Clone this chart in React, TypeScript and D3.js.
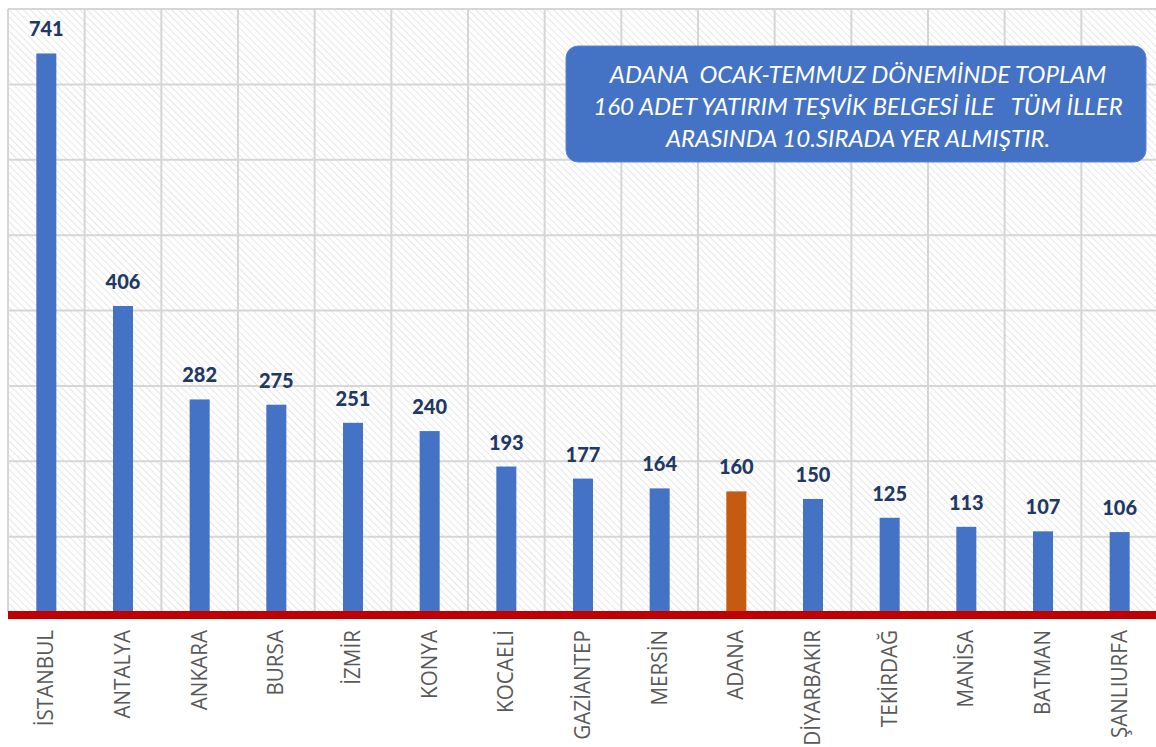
import { useEffect, useRef } from 'react'
import * as d3 from 'd3'

const cities = ['İSTANBUL', 'ANTALYA', 'ANKARA', 'BURSA', 'İZMİR', 'KONYA', 'KOCAELİ', 'GAZİANTEP', 'MERSİN', 'ADANA', 'DİYARBAKIR', 'TEKİRDAĞ', 'MANİSA', 'BATMAN', 'ŞANLIURFA']
const counts = [741, 406, 282, 275, 251, 240, 193, 177, 164, 160, 150, 125, 113, 107, 106]
const highlight = 'ADANA'
const yTicks = [0, 100, 200, 300, 400, 500, 600, 700, 800]
const noteLines = [
  'ADANA  OCAK-TEMMUZ DÖNEMİNDE TOPLAM',
  '160 ADET YATIRIM TEŞVİK BELGESİ İLE   TÜM İLLER',
  'ARASINDA 10.SIRADA YER ALMIŞTIR.',
]

const App = () => {
  const ref = useRef(null)
  const width = 1156
  const height = 747

  useEffect(() => {
    if (!ref.current) return
    const svg = d3.select(ref.current)
    svg.selectAll('*').remove()

    const left = 8, right = 1158, top = 9, bottom = 612

    const x = d3.scaleBand().domain(cities).range([left, right])
    const y = d3.scaleLinear().domain([0, 800]).range([bottom, top])

    // diagonal hatch like the excel plot area fill
    const defs = svg.append('defs')
    const pat = defs.append('pattern')
      .attr('id', 'hatch')
      .attr('width', 5).attr('height', 5)
      .attr('patternUnits', 'userSpaceOnUse')
      .attr('patternTransform', 'rotate(45)')
    pat.append('rect').attr('width', 5).attr('height', 5).attr('fill', '#fff')
    pat.append('line')
      .attr('x1', 0).attr('y1', 0).attr('x2', 5).attr('y2', 0)
      .attr('stroke', '#e2e2e2').attr('stroke-width', 1.6)

    svg.append('rect')
      .attr('x', left).attr('y', top)
      .attr('width', right - left).attr('height', bottom - top)
      .attr('fill', 'url(#hatch)')

    svg.append('g').selectAll('line').data(yTicks).enter().append('line')
      .attr('x1', left).attr('x2', right)
      .attr('y1', d => y(d)).attr('y2', d => y(d))
      .attr('stroke', '#d6d6d6').attr('stroke-width', 2)

    const vx = cities.map(c => x(c)).concat([right])
    svg.append('g').selectAll('line').data(vx).enter().append('line')
      .attr('x1', d => d).attr('x2', d => d)
      .attr('y1', top).attr('y2', bottom)
      .attr('stroke', '#d6d6d6').attr('stroke-width', 2)

    const barW = 20
    svg.append('g').selectAll('rect').data(counts).enter().append('rect')
      .attr('x', (d, i) => x(cities[i]) + x.bandwidth() / 2 - barW / 2)
      .attr('y', d => y(d))
      .attr('width', barW)
      .attr('height', d => bottom - y(d))
      .attr('fill', (d, i) => cities[i] === highlight ? '#c55a11' : '#4472c4')

    svg.append('g').selectAll('text').data(counts).enter().append('text')
      .text(d => d)
      .attr('x', (d, i) => x(cities[i]) + x.bandwidth() / 2)
      .attr('y', d => y(d) - 17)
      .attr('text-anchor', 'middle')
      .style('font-family', 'Lato, "Open Sans", sans-serif')
      .style('font-weight', 900)
      .style('font-size', '20px')
      .attr('fill', '#1f3864')

    svg.append('rect')
      .attr('x', left).attr('y', bottom - 1)
      .attr('width', right - left).attr('height', 8)
      .attr('fill', '#c00000')

    svg.append('g').selectAll('text').data(cities).enter().append('text')
      .text(d => d)
      .attr('transform', d => `translate(${x(d) + x.bandwidth() / 2 + 7},630) rotate(-90) scale(0.94,1)`)
      .attr('text-anchor', 'end')
      .style('font-family', '"Open Sans", sans-serif')
      .style('font-size', '22px')
      .attr('fill', '#595959')

    const box = svg.append('g')
    box.append('rect')
      .attr('x', 566).attr('y', 46)
      .attr('width', 580).attr('height', 116)
      .attr('rx', 12)
      .attr('fill', '#4472c4')
      .attr('stroke', '#5b86d0').attr('stroke-width', 1)
    box.selectAll('text').data(noteLines).enter().append('text')
      .text(d => d)
      .attr('x', 858)
      .attr('y', (d, i) => 83 + i * 32)
      .attr('text-anchor', 'middle')
      .attr('fill', '#fff')
      .style('font-family', 'Lato, sans-serif')
      .style('font-style', 'italic')
      .style('font-size', '24px')
      .style('white-space', 'pre')
  }, [])

  return (
    <svg
      ref={ref}
      width={width}
      height={height}
      style={{ position: 'absolute', left: 0, top: 0 }}
    />
  )
}

export default App
